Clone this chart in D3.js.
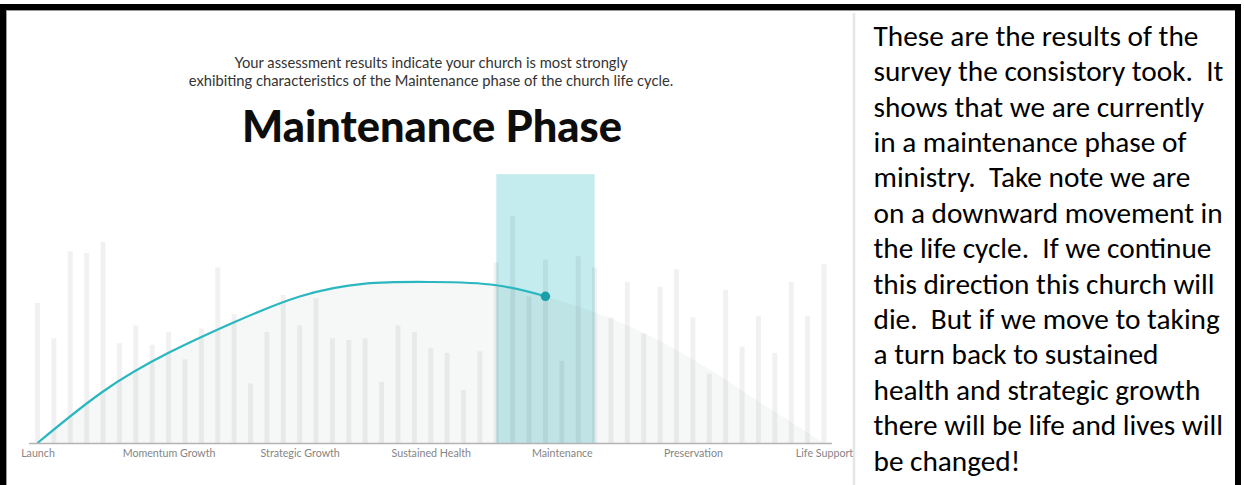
<!DOCTYPE html>
<html><head><meta charset="utf-8">
<script src="https://cdn.jsdelivr.net/npm/d3@7"></script>
<style>html,body{margin:0;padding:0;background:#fff;overflow:hidden}</style>
</head><body><svg id="c" width="1244" height="485"></svg>
<script>
// ---------- data ----------
const phases = ["Launch","Momentum Growth","Strategic Growth","Sustained Health","Maintenance","Preservation","Life Support"];
const curvePositions = [0,0.5,1,1.5,2,2.5,3,3.5,4,4.5,5,5.5,6];
const curveValues    = [0,32,56,75,91,99,100,98,88,73,52,26,0];
const barValues = [87,65,119,118,125,62,73,61,69,52,71,109,80,37,69,92,73,90,65,64,65,38,73,69,
                   59,56,33,57,112,141,91,114,51,116,109,78,100,68,97,108,78,43,95,60,79,56,100,79,111];
const barsPerPhase = 8;
const score = 3.875;
const highlightHalfWidth = 0.375;
const highlightTop = 167;
const subtitleLines = ["Your assessment results indicate your church is most strongly",
                       "exhibiting characteristics of the Maintenance phase of the church life cycle."];
const titleText = "Maintenance Phase";
const noteLines = [
 "These are the results of the",
 "survey the consistory took.  It",
 "shows that we are currently",
 "in a maintenance phase of",
 "ministry.  Take note we are",
 "on a downward movement in",
 "the life cycle.  If we continue",
 "this direction this church will",
 "die.  But if we move to taking",
 "a turn back to sustained",
 "health and strategic growth",
 "there will be life and lives will",
 "be changed!"
];

// ---------- drawing ----------
const svg = d3.select("#c");
const x = d3.scaleLinear().domain([0, phases.length - 1]).range([37.5, 824]);
const y = d3.scaleLinear().domain([0, 100]).range([443, 282]);

function fitWidth(sel, target){
  let maxW = 0;
  sel.each(function(){ maxW = Math.max(maxW, this.getComputedTextLength()); });
  const fs = parseFloat(sel.attr("font-size"));
  sel.attr("font-size", fs * target / maxW);
}

// frame
svg.append("rect").attr("x",0).attr("y",4).attr("width",6).attr("height",481).attr("fill","#000");
svg.append("rect").attr("x",0).attr("y",4).attr("width",1241).attr("height",6).attr("fill","#000");
svg.append("rect").attr("x",1235).attr("y",4).attr("width",6).attr("height",481).attr("fill","#000");
svg.append("line").attr("x1",6.5).attr("x2",6.5).attr("y1",10).attr("y2",485).attr("stroke","#999").attr("stroke-width",1);
svg.append("line").attr("x1",6).attr("x2",1235).attr("y1",10.5).attr("y2",10.5).attr("stroke","#999").attr("stroke-width",1);
svg.append("line").attr("x1",854).attr("x2",854).attr("y1",13).attr("y2",485).attr("stroke","#e6e6e6").attr("stroke-width",2.5);

// subtitle + title
const sub = svg.append("g").selectAll("text").data(subtitleLines).join("text")
  .attr("x",431).attr("y",(d,i)=>68 + i*18).attr("text-anchor","middle")
  .attr("font-family","Lato, sans-serif").attr("font-size",13).attr("fill","#333")
  .text(d=>d);
fitWidth(sub.filter((d,i)=>i===1), 485);
sub.filter((d,i)=>i===0).attr("font-size", sub.filter((d,i)=>i===1).attr("font-size"));

const tt = svg.append("text").attr("x",432).attr("y",141.5).attr("text-anchor","middle")
  .attr("font-family","Lato, sans-serif").attr("font-weight",900).attr("font-size",40)
  .attr("fill","#0d0d0d").text(titleText);
fitWidth(tt, 380);

// highlight band
svg.append("rect")
  .attr("x", x(score - highlightHalfWidth)).attr("y", y(highlightTop))
  .attr("width", x(score + highlightHalfWidth) - x(score - highlightHalfWidth))
  .attr("height", y(0) - y(highlightTop))
  .attr("fill","#c4ebee");

// background bars
svg.append("g").selectAll("rect").data(barValues).join("rect")
  .attr("x",(d,i)=>x(i/barsPerPhase) - 2.5).attr("width",5)
  .attr("y",d=>y(d)).attr("height",d=>y(0)-y(d))
  .attr("fill","rgba(0,0,0,0.055)");

// area + line
const pts = curvePositions.map((p,i)=>[p, curveValues[i]]);
const area = d3.area().x(d=>x(d[0])).y0(y(0)).y1(d=>y(d[1])).curve(d3.curveNatural);
const line = d3.line().x(d=>x(d[0])).y(d=>y(d[1])).curve(d3.curveNatural);
svg.append("path").attr("d",area(pts)).attr("fill","rgba(70,95,95,0.05)");

svg.append("clipPath").attr("id","lc").append("rect")
  .attr("x",0).attr("y",0).attr("width",x(score)).attr("height",485);
const lp = svg.append("path").attr("d",line(pts)).attr("fill","none")
  .attr("stroke","#2bb7c0").attr("stroke-width",2.2).attr("clip-path","url(#lc)");

// axis baseline + labels
svg.append("line").attr("x1",x(-0.065)).attr("x2",x(6.06)).attr("y1",443.5).attr("y2",443.5)
  .attr("stroke","#b3b3b3").attr("stroke-width",1.6);
const ax = svg.append("g").attr("transform","translate(0,443)")
  .call(d3.axisBottom(x).tickValues(d3.range(phases.length)).tickFormat(i=>phases[i]).tickSize(0).tickPadding(6.3));
ax.select(".domain").remove();
const axt = ax.selectAll("text").attr("font-family","Lato, sans-serif").attr("font-size",10).attr("fill","#858585");
fitWidth(axt.filter((d,i)=>i===1), 93);
axt.attr("font-size", axt.filter((d,i)=>i===1).attr("font-size"));

// dot at score on the curve
const node = lp.node();
const px = x(score);
let lo = 0, hi = node.getTotalLength();
for (let k=0;k<50;k++){ const m=(lo+hi)/2; if (node.getPointAtLength(m).x < px) lo=m; else hi=m; }
const dp = node.getPointAtLength(lo);
svg.append("circle").attr("cx",px).attr("cy",dp.y).attr("r",4.7).attr("fill","#1a9ea7");

// side note
const note = svg.append("g").selectAll("text").data(noteLines).join("text")
  .attr("x",873.5).attr("y",(d,i)=>45.7 + i*35.4)
  .attr("font-family","Carlito, Calibri, Lato, sans-serif").attr("font-size",26)
  .attr("fill","#000").style("white-space","pre").text(d=>d);
fitWidth(note, 350);
</script></body></html>
